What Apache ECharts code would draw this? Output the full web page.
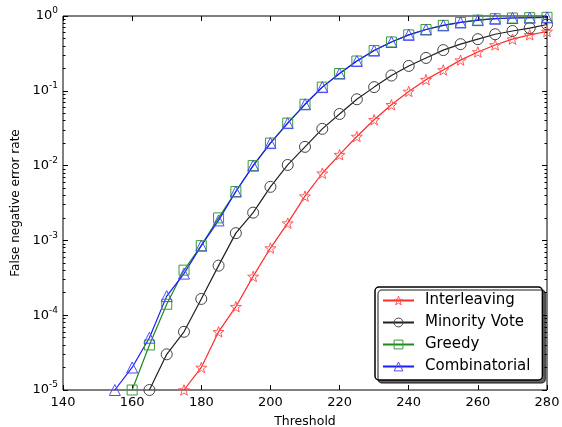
<!DOCTYPE html>
<html><head><meta charset="utf-8">
<script src="https://cdn.jsdelivr.net/npm/echarts@6/dist/echarts.min.js"></script>
<style>html,body{margin:0;padding:0;background:#fff}#c{width:562px;height:427px}</style>
</head><body><div id="c"></div>
<script>
var thresholds = [155,160,165,170,175,180,185,190,195,200,205,210,215,220,225,230,235,240,245,250,255,260,265,270,275,280];
var interleaving = [null,null,null,null,1e-5,2e-5,6e-5,1.3e-4,3.3e-4,7.9e-4,1.7e-3,3.9e-3,7.9e-3,1.4e-2,2.45e-2,4.1e-2,6.5e-2,0.098,0.141,0.19,0.257,0.33,0.41,0.49,0.56,0.62];
var minorityVote = [null,null,1e-5,3e-5,6e-5,1.65e-4,4.6e-4,1.25e-3,2.35e-3,5.2e-3,1.02e-2,1.78e-2,3.1e-2,4.9e-2,7.7e-2,0.112,0.16,0.215,0.275,0.35,0.42,0.49,0.57,0.63,0.69,0.77];
var greedy = [null,1e-5,4e-5,1.4e-4,4e-4,8.5e-4,2.0e-3,4.5e-3,1.0e-2,2.0e-2,3.7e-2,6.6e-2,0.112,0.17,0.25,0.345,0.45,0.56,0.66,0.75,0.82,0.88,0.92,0.94,0.95,0.96];
var combinatorial = [1e-5,2e-5,5e-5,1.8e-4,3.6e-4,8.5e-4,1.85e-3,4.5e-3,1.0e-2,2.0e-2,3.7e-2,6.6e-2,0.112,0.17,0.25,0.345,0.45,0.56,0.66,0.75,0.82,0.88,0.92,0.94,0.95,0.96];
var seriesNames = ['Interleaving','Minority Vote','Greedy','Combinatorial'];
var xTicks = [140,160,180,200,220,240,260,280];
var yTickExponents = [-5,-4,-3,-2,-1,0];

function pairs(vals){ var out=[]; for(var i=0;i<thresholds.length;i++){ if(vals[i]!=null) out.push([thresholds[i], vals[i]]);} return out; }
var minorVals=[]; for(var e=-5;e<0;e++){ for(var m=2;m<10;m++){ minorVals.push(m*Math.pow(10,e)); } }
var majorVals=yTickExponents.map(function(e){return Math.pow(10,e);});
var FONT='DejaVu Sans';
var star='path://M0,-10L2.35,-3.24L9.51,-3.09L3.8,1.24L5.88,8.09L0,4.2L-5.88,8.09L-3.8,1.24L-9.51,-3.09L-2.35,-3.24Z';

function yAx(pos, showLabel, vals, len){
  return {type:'log', logBase:10, min:1e-5, max:1, position:pos,
    axisLine:{show:false}, splitLine:{show:false},
    axisTick:{show:true, inside:true, length:len, customValues:vals, lineStyle:{color:'#000',width:1}},
    axisLabel:{show:showLabel, customValues: showLabel?majorVals:undefined, fontFamily:FONT, color:'#000', margin:5,
      formatter:function(v){ var ex=Math.round(Math.log10(v)); return '{b|10}{s|'+ex+'}'; },
      rich:{b:{fontSize:13,fontFamily:FONT,color:'#000'}, s:{fontSize:9,fontFamily:FONT,color:'#000',padding:[0,0,10,0]}}},
    name: showLabel && pos==='left' ? 'False negative error rate' : '', nameLocation:'middle', nameGap:38,
    nameTextStyle:{fontFamily:FONT,fontSize:12,color:'#000'}
  };
}
function mk(name, vals, lineColor, markColor, symbol, size){
  return {name:name, type:'line', data:pairs(vals), xAxisIndex:0, yAxisIndex:0,
    symbol:symbol, symbolSize:size, showAllSymbol:true, symbolKeepAspect:true,
    lineStyle:{color:lineColor,width:1.2}, color:lineColor,
    itemStyle:{color:'rgba(255,255,255,0)', borderColor:markColor, borderWidth:1},
    emphasis:{disabled:true}, animation:false};
}
var chart=echarts.init(document.getElementById('c'));
chart.setOption({
  animation:false,
  grid:{left:63,right:15,top:16,bottom:37,outerBoundsMode:'none',containLabel:false,show:true,borderColor:'#000',borderWidth:1,backgroundColor:'#fff'},
  xAxis:[
    {type:'value',min:140,max:280,interval:20,position:'bottom',
     axisLine:{show:false},splitLine:{show:false},
     axisTick:{inside:true,length:5,lineStyle:{color:'#000'}},
     axisLabel:{fontFamily:FONT,fontSize:13,color:'#000',margin:6},
     name:'Threshold',nameLocation:'middle',nameGap:25,nameTextStyle:{fontFamily:FONT,fontSize:12.5,color:'#000'}},
    {type:'value',min:140,max:280,interval:20,position:'top',
     axisLine:{show:false},splitLine:{show:false},
     axisTick:{inside:true,length:5,lineStyle:{color:'#000'}},axisLabel:{show:false}}
  ],
  yAxis:[
    yAx('left',true,majorVals,5),
    yAx('left',false,minorVals,2.5),
    yAx('right',false,majorVals,5),
    yAx('right',false,minorVals,2.5)
  ],
  legend:{orient:'vertical',left:375,top:287,itemWidth:31,itemHeight:11,itemGap:7,
    padding:[6,12,6,7],backgroundColor:'#fff',borderColor:'#000',borderWidth:1.5,borderRadius:4,
    shadowColor:'rgba(0,0,0,0.6)',shadowOffsetX:3,shadowOffsetY:3,shadowBlur:0,
    itemStyle:{color:'rgba(255,255,255,0)',borderWidth:1},
    textStyle:{fontFamily:FONT,fontSize:15,color:'#000',padding:[0,0,0,6]},data:seriesNames},
  series:[
    mk(seriesNames[0], interleaving, '#ff2a2a', '#ff5a5a', star, 11),
    mk(seriesNames[1], minorityVote, '#202020', '#444444', 'circle', 11),
    mk(seriesNames[2], greedy, '#1a8c1a', '#3a9a3a', 'rect', 10),
    mk(seriesNames[3], combinatorial, '#1a1aff', '#4a4aff', 'triangle', 11)
  ]
});
</script></body></html>
